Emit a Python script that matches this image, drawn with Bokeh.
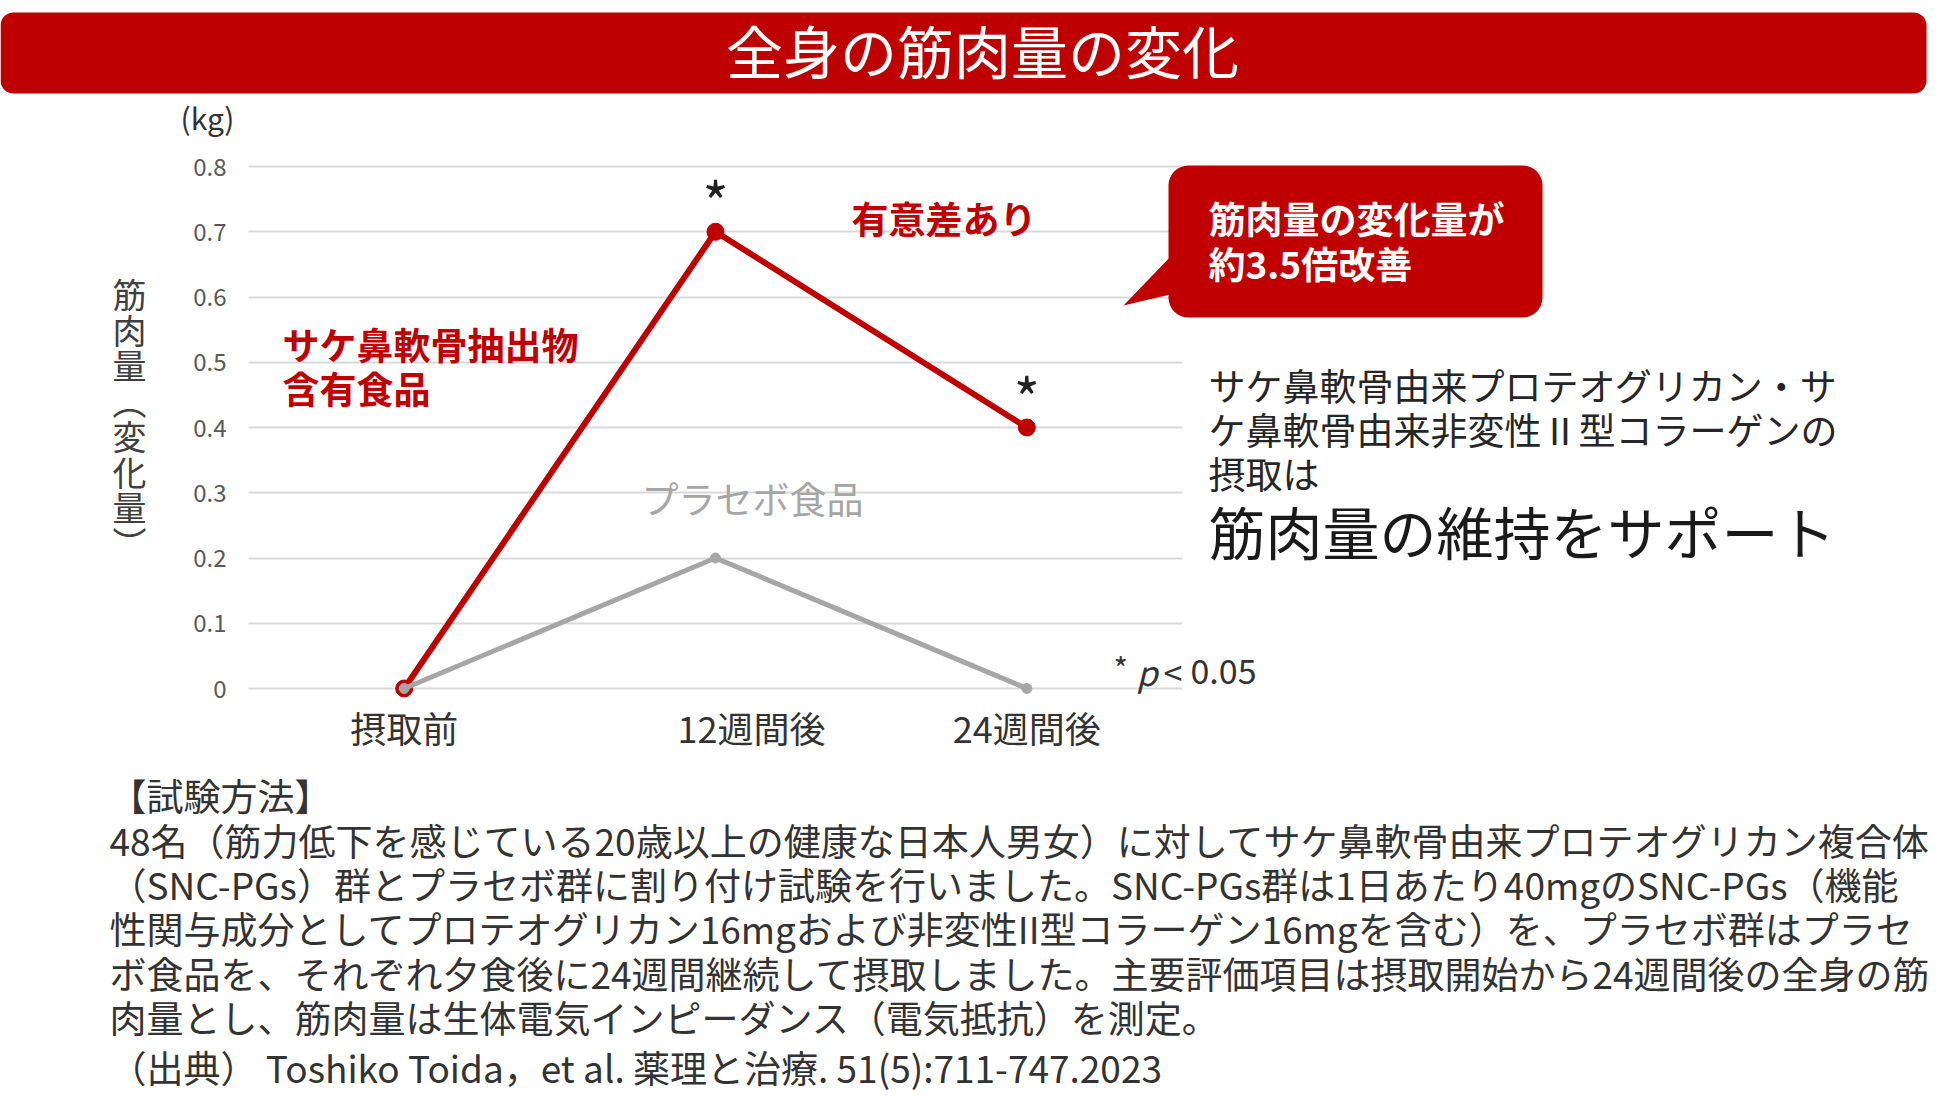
from bokeh.plotting import figure
from bokeh.models import Range1d, FixedTicker, Label, BoxAnnotation, PolyAnnotation, Grid
from bokeh.embed import file_html
from bokeh.resources import INLINE

# ---------------- data ----------------
CATEGORIES = ["摂取前", "12週間後", "24週間後"]
CAT_INDEX = [0, 1, 2]
SNC_VALUES = [0.0, 0.70, 0.40]          # サケ鼻軟骨抽出物含有食品
PLACEBO_VALUES = [0.0, 0.20, 0.0]       # プラセボ食品
SIGNIFICANT = [False, True, True]       # * p < 0.05
Y_TICKS = [0.0, 0.1, 0.2, 0.3, 0.4, 0.5, 0.6, 0.7, 0.8]
Y_TICK_LABELS = ["0", "0.1", "0.2", "0.3", "0.4", "0.5", "0.6", "0.7", "0.8"]

TITLE = "全身の筋肉量の変化"
Y_UNIT = "(kg)"
Y_TITLE = "筋肉量（変化量）"
SNC_NAME = ["サケ鼻軟骨抽出物", "含有食品"]
PLACEBO_NAME = "プラセボ食品"
SIG_NOTE = "有意差あり"
CALLOUT = ["筋肉量の変化量が", "約3.5倍改善"]
SIDE_TEXT = ["サケ鼻軟骨由来プロテオグリカン・サ", "ケ鼻軟骨由来非変性Ⅱ型コラーゲンの", "摂取は"]
SIDE_HEAD = "筋肉量の維持をサポート"
METHOD_HEAD = "【試験方法】"
METHOD_LINES = [
    "48名（筋力低下を感じている20歳以上の健康な日本人男女）に対してサケ鼻軟骨由来プロテオグリカン複合体",
    "（SNC-PGs）群とプラセボ群に割り付け試験を行いました。SNC-PGs群は1日あたり40mgのSNC-PGs（機能",
    "性関与成分としてプロテオグリカン16mgおよび非変性II型コラーゲン16mgを含む）を、プラセボ群はプラセ",
    "ボ食品を、それぞれ夕食後に24週間継続して摂取しました。主要評価項目は摂取開始から24週間後の全身の筋",
    "肉量とし、筋肉量は生体電気インピーダンス（電気抵抗）を測定。",
]
SOURCE = "（出典） Toshiko Toida，et al. 薬理と治療. 51(5):711-747.2023"

# ---------------- layout / style ----------------
W, H = 1948, 1112
CH_LEFT, CH_RIGHT = 248.0, 1182.0      # pixel extent of the chart's category band
Y0_PX, Y08_PX = 688.0, 166.0           # pixel rows of 0 and 0.8
PPU = (Y0_PX - Y08_PX) / 0.8
CX_START, CX_END = -0.5, 2.5

RED = "#C00000"
GRAY = "#A6A6A6"
FONT = "Noto Sans CJK JP"


def X(px):
    return CX_START + (px - CH_LEFT) / (CH_RIGHT - CH_LEFT) * (CX_END - CX_START)


def Y(py):
    return (Y0_PX - py) / PPU


p = figure(width=W, height=H, x_range=Range1d(X(0), X(W)), y_range=Range1d(Y(H), Y(0)),
           output_backend="svg", toolbar_location=None, title=None,
           min_border=0, min_border_left=0, min_border_right=0, min_border_top=0, min_border_bottom=0)
p.outline_line_color = None
p.background_fill_color = "white"
p.border_fill_color = "white"

# axes (drawn at fixed locations inside the canvas)
p.yaxis.fixed_location = CX_START
p.yaxis.ticker = FixedTicker(ticks=Y_TICKS)
p.yaxis.major_label_overrides = {t: s for t, s in zip(Y_TICKS, Y_TICK_LABELS)}
p.yaxis.axis_line_color = None
p.yaxis.major_tick_line_color = None
p.yaxis.major_tick_out = 0
p.yaxis.major_tick_in = 0
p.yaxis.minor_tick_line_color = None
p.yaxis.major_label_standoff = 22
p.yaxis.major_label_text_font = FONT
p.yaxis.major_label_text_font_size = "24px"
p.yaxis.major_label_text_color = "#595959"

p.xaxis.fixed_location = 0.0
p.xaxis.ticker = FixedTicker(ticks=CAT_INDEX)
overrides = {i: c for i, c in zip(CAT_INDEX, CATEGORIES)}
overrides[1] = "\u3000\u3000" + CATEGORIES[1]
p.xaxis.major_label_overrides = overrides
p.xaxis.axis_line_color = None
p.xaxis.major_tick_line_color = None
p.xaxis.major_tick_out = 0
p.xaxis.major_tick_in = 0
p.xaxis.minor_tick_line_color = None
p.xaxis.major_label_standoff = 12
p.xaxis.major_label_text_font = FONT
p.xaxis.major_label_text_font_size = "36px"
p.xaxis.major_label_text_color = "#333333"

p.xgrid.visible = False
if "cross_bounds" in Grid.properties():
    p.ygrid.ticker = FixedTicker(ticks=Y_TICKS)
    p.ygrid.cross_bounds = (CX_START, CX_END)
    p.ygrid.grid_line_color = "#D9D9D9"
    p.ygrid.grid_line_width = 2
else:
    p.ygrid.visible = False
    p.segment(x0=[CX_START] * len(Y_TICKS), x1=[CX_END] * len(Y_TICKS), y0=Y_TICKS, y1=Y_TICKS,
              line_color="#D9D9D9", line_width=2)

# title bar
p.add_layout(BoxAnnotation(left=X(0), right=X(1926), top=Y(12), bottom=Y(93),
                           fill_color="#BE0000", fill_alpha=1.0, line_color=None, border_radius=13))
p.add_layout(Label(x=X(982), y=Y(48), text=TITLE, text_font=FONT, text_font_size="57px",
                   text_color="white", text_align="center", text_baseline="middle"))

# data lines
p.line(CAT_INDEX, SNC_VALUES, line_color=RED, line_width=6)
p.scatter(CAT_INDEX, SNC_VALUES, size=17, fill_color=RED, line_color=RED)
p.line(CAT_INDEX, PLACEBO_VALUES, line_color=GRAY, line_width=5)
p.scatter(CAT_INDEX, PLACEBO_VALUES, size=10, fill_color=GRAY, line_color=GRAY)

# significance asterisks
for i, v, s in zip(CAT_INDEX, SNC_VALUES, SIGNIFICANT):
    if s:
        p.add_layout(Label(x=i, y=v + 32 / PPU, text="*", text_font=FONT, text_font_size="56px",
                           text_color="#222222", text_align="center", text_baseline="middle"))

# unit and y title (stacked vertically)
p.add_layout(Label(x=X(207), y=Y(116), text=Y_UNIT, text_font=FONT, text_font_size="30px",
                   text_color="#333333", text_align="center", text_baseline="middle"))
vert = Y_TITLE.replace("（", "︵").replace("）", "︶")
for k, ch in enumerate(vert):
    p.add_layout(Label(x=X(129), y=Y(293 + 35.5 * k), text=ch, text_font=FONT, text_font_size="34px",
                       text_color="#404040", text_align="center", text_baseline="middle"))

# series names
for k, line in enumerate(SNC_NAME):
    p.add_layout(Label(x=X(282), y=Y(343 + 44 * k), text=line, text_font=FONT, text_font_size="37px",
                       text_font_style="bold", text_color=RED, text_baseline="middle"))
p.add_layout(Label(x=X(851), y=Y(217), text=SIG_NOTE, text_font=FONT, text_font_size="37px",
                   text_font_style="bold", text_color=RED, text_baseline="middle"))
p.add_layout(Label(x=X(641), y=Y(497), text=PLACEBO_NAME, text_font=FONT, text_font_size="37px",
                   text_color=GRAY, text_baseline="middle"))

# callout
p.add_layout(PolyAnnotation(xs=[X(1174), X(1123), X(1174)], ys=[Y(252), Y(305), Y(293)],
                            fill_color=RED, fill_alpha=1.0, line_color=None))
p.add_layout(BoxAnnotation(left=X(1168), right=X(1542), top=Y(165), bottom=Y(317),
                           fill_color=RED, fill_alpha=1.0, line_color=None, border_radius=20))
for k, line in enumerate(CALLOUT):
    p.add_layout(Label(x=X(1208), y=Y(217 + 45 * k), text=line, text_font=FONT, text_font_size="37px",
                       text_font_style="bold", text_color="white", text_baseline="middle"))

# side text
for k, line in enumerate(SIDE_TEXT):
    p.add_layout(Label(x=X(1208), y=Y(384 + 44 * k), text=line, text_font=FONT, text_font_size="37px",
                       text_color="#262626", text_baseline="middle"))
p.add_layout(Label(x=X(1208), y=Y(529), text=SIDE_HEAD, text_font=FONT, text_font_size="57px",
                   text_color="#1a1a1a", text_baseline="middle"))

# p-value note
for txt, px, py, size, style in [("*", 1113, 667, "31px", "normal"), ("p", 1136, 671, "34px", "italic"),
                                 ("<", 1163, 671, "34px", "normal"), ("0.05", 1190, 671, "34px", "normal")]:
    p.add_layout(Label(x=X(px), y=Y(py), text=txt, text_font=FONT, text_font_size=size,
                       text_font_style=style, text_color="#333333", text_baseline="middle"))

# method text
p.add_layout(Label(x=X(109), y=Y(794), text=METHOD_HEAD, text_font=FONT, text_font_size="37px",
                   text_color="#333333", text_baseline="middle"))
for k, line in enumerate(METHOD_LINES):
    p.add_layout(Label(x=X(109), y=Y(839 + 44.4 * k), text=line, text_font=FONT, text_font_size="37px",
                       text_color="#333333", text_baseline="middle"))
p.add_layout(Label(x=X(109), y=Y(1066), text=SOURCE, text_font=FONT, text_font_size="37px",
                   text_color="#333333", text_baseline="middle"))

open("out.html", "w").write(file_html(p, INLINE))
